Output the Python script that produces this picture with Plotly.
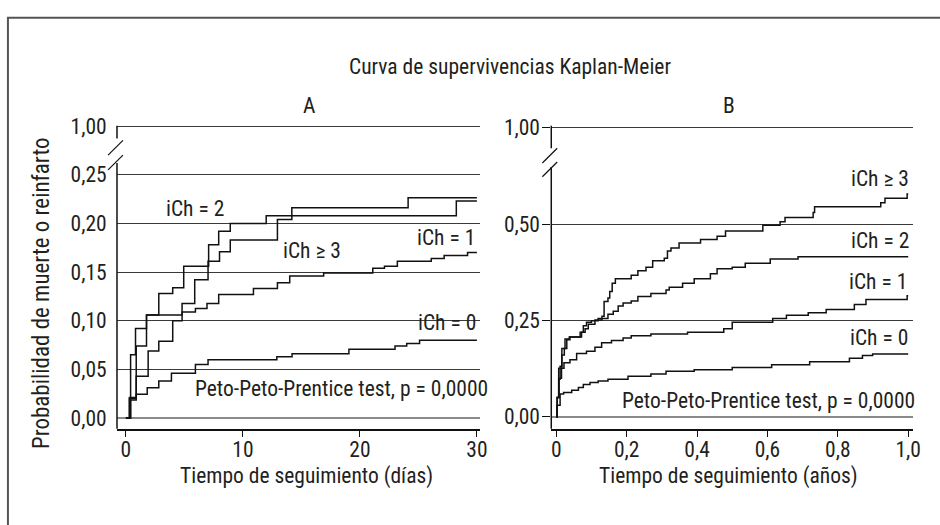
import plotly.graph_objects as go

# ---------------- data ----------------
# Panel A: days 0-30
a_days_ich0 = [0, 0.4, 0.88, 1.82, 2.81, 3.89, 5.94, 7.02, 12.9, 14.2, 19.06, 23.0, 24.0, 25.1, 30.0]
a_prob_ich0 = [0, 0.0185, 0.0245, 0.031, 0.038, 0.046, 0.055, 0.060, 0.063, 0.066, 0.0706, 0.074, 0.0766, 0.080, 0.080]

a_days_ich1 = [0, 0.3, 0.88, 1.76, 4.8, 5.94, 6.93, 7.93, 10.9, 12.95, 14.0, 16.9, 21.1, 22.1, 23.2, 26.1, 27.2, 29.2, 30.0]
a_prob_ich1 = [0, 0.02, 0.074, 0.106, 0.109, 0.1125, 0.1176, 0.127, 0.133, 0.139, 0.146, 0.149, 0.154, 0.156, 0.161, 0.164, 0.167, 0.170, 0.170]

a_days_ich2 = [0, 0.4, 0.82, 1.76, 2.81, 4.0, 4.94, 7.07, 7.93, 8.92, 11.99, 14.18, 24.12, 30.0]
a_prob_ich2 = [0, 0.065, 0.092, 0.106, 0.128, 0.134, 0.156, 0.178, 0.192, 0.200, 0.208, 0.216, 0.2265, 0.2265]

a_days_ich3 = [0, 0.3, 0.88, 1.9, 2.81, 4.0, 4.8, 5.88, 7.02, 8.0, 8.92, 12.95, 14.18, 28.24, 30.0]
a_prob_ich3 = [0, 0.021, 0.043, 0.069, 0.079, 0.100, 0.1176, 0.142, 0.161, 0.171, 0.183, 0.204, 0.208, 0.223, 0.223]

# Panel B: years 0-1
b_years_ich0 = [0, 0.002, 0.011, 0.021, 0.044, 0.063, 0.077, 0.096, 0.119, 0.147, 0.204, 0.269, 0.312, 0.392, 0.5, 0.612, 0.72, 0.833, 0.87, 0.899, 1.0]
b_prob_ich0 = [0, 0.03, 0.059, 0.063, 0.069, 0.076, 0.084, 0.089, 0.093, 0.097, 0.105, 0.111, 0.118, 0.122, 0.128, 0.135, 0.143, 0.152, 0.159, 0.163, 0.163]

b_years_ich1 = [0, 0.003, 0.008, 0.015, 0.022, 0.039, 0.058, 0.086, 0.11, 0.129, 0.157, 0.19, 0.213, 0.269, 0.373, 0.476, 0.5, 0.615, 0.654, 0.716, 0.767, 0.847, 0.88, 0.997, 1.0]
b_prob_ich1 = [0, 0.05, 0.10, 0.126, 0.14, 0.148, 0.164, 0.17, 0.18, 0.192, 0.198, 0.204, 0.21, 0.215, 0.219, 0.228, 0.245, 0.255, 0.263, 0.27, 0.278, 0.291, 0.304, 0.314, 0.314]

b_years_ich2 = [0, 0.003, 0.007, 0.016, 0.025, 0.037, 0.068, 0.077, 0.086, 0.10, 0.119, 0.147, 0.162, 0.176, 0.19, 0.213, 0.232, 0.269, 0.312, 0.321, 0.359, 0.392, 0.438, 0.457, 0.50, 0.537, 0.608, 0.687, 1.0]
b_prob_ich2 = [0, 0.05, 0.126, 0.177, 0.202, 0.207, 0.219, 0.236, 0.245, 0.249, 0.255, 0.266, 0.274, 0.287, 0.295, 0.30, 0.312, 0.32, 0.329, 0.336, 0.346, 0.358, 0.371, 0.384, 0.388, 0.398, 0.409, 0.415, 0.415]

b_years_ich3 = [0, 0.003, 0.007, 0.011, 0.016, 0.023, 0.030, 0.039, 0.072, 0.082, 0.091, 0.110, 0.130, 0.136, 0.147, 0.152, 0.159, 0.168, 0.213, 0.232, 0.255, 0.274, 0.307, 0.316, 0.326, 0.349, 0.410, 0.457, 0.481, 0.587, 0.636, 0.650, 0.730, 0.734, 0.922, 0.934, 0.997, 1.0]
b_prob_ich3 = [0, 0.05, 0.097, 0.131, 0.160, 0.177, 0.200, 0.207, 0.219, 0.228, 0.240, 0.251, 0.261, 0.299, 0.308, 0.325, 0.346, 0.358, 0.367, 0.379, 0.388, 0.405, 0.411, 0.430, 0.438, 0.451, 0.460, 0.468, 0.482, 0.497, 0.506, 0.517, 0.530, 0.545, 0.555, 0.567, 0.578, 0.578]

# tick labels (the top "1,00" tick sits just above the axis break)
a_xticks = [0, 10, 20, 30]
a_xticktext = ["0", "10", "20", "30"]
a_yticks = [0, 0.05, 0.10, 0.15, 0.20, 0.25, 0.30]
a_yticktext = ["0,00", "0,05", "0,10", "0,15", "0,20", "0,25", "1,00"]
b_xticks = [0, 0.2, 0.4, 0.6, 0.8, 1.0]
b_xticktext = ["0", "0,2", "0,4", "0,6", "0,8", "1,0"]
b_yticks = [0, 0.25, 0.50, 0.75]
b_yticktext = ["0,00", "0,25", "0,50", "1,00"]

title_text = "Curva de supervivencias Kaplan-Meier"
ytitle = "Probabilidad de muerte o reinfarto"
a_xtitle = "Tiempo de seguimiento (días)"
b_xtitle = "Tiempo de seguimiento (años)"
test_text = "Peto-Peto-Prentice test, p = 0,0000"

# ---------------- layout helpers ----------------
W, H = 940, 525
FONT = "Noto Sans ExtraCondensed, Noto Sans Condensed, Roboto Condensed, Open Sans Condensed, Liberation Sans Narrow, Liberation Sans"
TXT = "#231f20"
FS = 21.5


def px(x):
    return x / W


def py(y):
    return 1 - y / H


fig = go.Figure()

line_style = dict(color="#111111", width=1.5, shape="hv")
for xs, ys in [(a_days_ich0, a_prob_ich0), (a_days_ich1, a_prob_ich1),
               (a_days_ich2, a_prob_ich2), (a_days_ich3, a_prob_ich3)]:
    fig.add_trace(go.Scatter(x=xs, y=ys, mode="lines", line=line_style,
                             xaxis="x", yaxis="y", showlegend=False, hoverinfo="skip"))
for xs, ys in [(b_years_ich0, b_prob_ich0), (b_years_ich1, b_prob_ich1),
               (b_years_ich2, b_prob_ich2), (b_years_ich3, b_prob_ich3)]:
    fig.add_trace(go.Scatter(x=xs, y=ys, mode="lines", line=line_style,
                             xaxis="x2", yaxis="y2", showlegend=False, hoverinfo="skip"))

tickfont = dict(family=FONT, size=FS, color=TXT)
common_x = dict(showline=True, linecolor="#111111", linewidth=1.5, ticks="outside",
                ticklen=6, tickwidth=1.2, tickcolor="#111111", showgrid=False,
                zeroline=False, tickfont=tickfont, fixedrange=True, ticklabelstandoff=-5)
common_y = dict(showline=False, showgrid=True, gridcolor="#3a3a3a", gridwidth=1,
                zeroline=True, zerolinecolor="#8a8a8a", zerolinewidth=2,
                ticks="outside", tickwidth=1.2, tickfont=tickfont, fixedrange=True)

fig.update_layout(
    width=W, height=H,
    margin=dict(l=0, r=0, t=0, b=0),
    paper_bgcolor="white", plot_bgcolor="white",
    font=dict(family=FONT, size=FS, color=TXT),
    xaxis=dict(domain=[px(118), px(484)], range=[(118 - 127) / 11.8, (484 - 127) / 11.8],
               tickvals=a_xticks, ticktext=a_xticktext, anchor="y", **common_x),
    yaxis=dict(domain=[py(429), py(116)], range=[(418 - 429) / 992, (418 - 116) / 992],
               tickvals=a_yticks, ticktext=a_yticktext, anchor="x", ticklen=5,
               tickcolor="rgba(0,0,0,0)", **common_y),
    xaxis2=dict(domain=[px(556), px(921)], range=[(556 - 561) / 355, (921 - 561) / 355],
                tickvals=b_xticks, ticktext=b_xticktext, anchor="y2", **common_x),
    yaxis2=dict(domain=[py(429), py(116)], range=[(416.7 - 429) / 393, (416.7 - 116) / 393],
                tickvals=b_yticks, ticktext=b_yticktext, anchor="x2", ticklen=8,
                ticklabelstandoff=-2, tickcolor="#111111", **common_y),
)

# ---------------- broken y axes and frame ----------------
shapes = []
ax_line = dict(color="#111111", width=1.5)
slash = dict(color="#111111", width=1.2)
# panel A axis
shapes.append(dict(type="line", xref="paper", yref="paper", x0=px(118), x1=px(118), y0=py(429), y1=py(158), line=ax_line))
shapes.append(dict(type="line", xref="paper", yref="paper", x0=px(118), x1=px(118), y0=py(133), y1=py(120), line=ax_line))
shapes.append(dict(type="line", xref="paper", yref="paper", x0=px(109), x1=px(124), y0=py(150), y1=py(135), line=slash))
shapes.append(dict(type="line", xref="paper", yref="paper", x0=px(109), x1=px(124), y0=py(165), y1=py(150), line=slash))
# panel B axis
shapes.append(dict(type="line", xref="paper", yref="paper", x0=px(556), x1=px(556), y0=py(429), y1=py(162), line=ax_line))
shapes.append(dict(type="line", xref="paper", yref="paper", x0=px(556), x1=px(556), y0=py(143), y1=py(120), line=ax_line))
shapes.append(dict(type="line", xref="paper", yref="paper", x0=px(547), x1=px(562), y0=py(158), y1=py(143), line=slash))
shapes.append(dict(type="line", xref="paper", yref="paper", x0=px(547), x1=px(562), y0=py(172), y1=py(157), line=slash))
# outer frame
shapes.append(dict(type="rect", xref="paper", yref="paper", x0=px(8), x1=1.05, y0=py(10), y1=-0.05,
                   line=dict(color="#555555", width=2), fillcolor="rgba(0,0,0,0)"))
fig.update_layout(shapes=shapes)

# ---------------- text ----------------
def label(text, x, y, size=FS, angle=0):
    fig.add_annotation(text=text, x=px(x), y=py(y), xref="paper", yref="paper",
                       showarrow=False, xanchor="center", yanchor="middle",
                       textangle=angle, font=dict(family=FONT, size=size, color=TXT))


label(title_text, 514, 60)
label("A", 312, 99)
label("B", 735, 99)
label(ytitle, 42, 291, size=23, angle=-90)
label(a_xtitle, 309, 477)
label(b_xtitle, 735, 477)
# panel A curve labels
label("iCh = 2", 197, 204)
label("iCh ≥ 3", 315, 247)
label("iCh = 1", 450, 234)
label("iCh = 0", 451, 321)
label(test_text, 344, 388)
# panel B curve labels
label("iCh ≥ 3", 888, 174)
label("iCh = 2", 888, 237)
label("iCh = 1", 886, 279)
label("iCh = 0", 887, 336)
label(test_text, 775, 400)

fig.write_html("out.html", config={"displayModeBar": False},
               post_script="document.body.style.margin='0';document.body.style.overflow='hidden';")
